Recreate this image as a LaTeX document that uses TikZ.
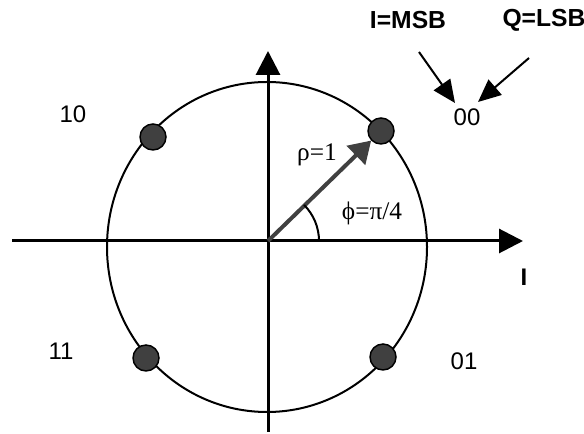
\documentclass[tikz,border=0pt]{standalone}
\usepackage{fontspec}
\setmainfont{Liberation Sans}
\newfontfamily\greekfont{Liberation Serif}
\usetikzlibrary{arrows.meta}

\begin{document}
\begin{tikzpicture}[x=0.75pt, y=0.75pt,
    axis/.style={line width=2.25pt, -{Triangle[length=18pt, width=18pt]}},
    pointer/.style={line width=1.5pt, -{Triangle[length=17pt, width=15pt]}},
    dot/.style={circle, draw=black, line width=1.1pt, fill=black!75, minimum size=19.5pt, inner sep=0pt},
    lab/.style={font=\fontsize{18}{20}\selectfont},
    hdr/.style={font=\bfseries\fontsize{18.5}{20}\selectfont},
    greek/.style={font=\greekfont\fontsize{19}{21}\selectfont}]
    \useasboundingbox (0,0) rectangle (584,434);

    % Assi
    \coordinate (O) at (268,193);
    \coordinate (xs) at (12,193);
    \coordinate (xe) at (523,193);
    \coordinate (ys) at (268,2);
    \coordinate (ye) at (268,383);
    \draw[axis] (xs) -- (xe);
    \draw[axis] (ys) -- (ye);
    \node[font=\bfseries\fontsize{18}{20}\selectfont] (ilab) at (524,157) {I};

    % Cerchio unitario
    \draw[line width=1.5pt] (267,187) ellipse [x radius=160, y radius=165];

    % Simboli
    \node[dot] (tr) at (381,303) {};
    \node[dot] (tl) at (153,297) {};
    \node[dot] (bl) at (146,76) {};
    \node[dot] (br) at (383,77) {};

    % Vettore e angolo
    \draw[line width=3pt, black!75, -{Triangle[length=16pt, width=19.5pt]}] (O) -- (tr);
    \draw[line width=1.5pt] ([shift={(51,0)}]O) arc [start angle=0, end angle=45, radius=51];
    \node[greek] (rho) at (317,279) {ρ=1};
    \node[greek] (phi) at (372,221) {ϕ=π/4};

    % Etichette dei bit
    \node[lab] (s10) at (73,320) {10};
    \node[lab] (s11) at (61,83) {11};
    \node[lab] (s01) at (464,73) {01};
    \node[lab] (s00) at (467,317) {00};
    \node[hdr] (msb) at (408,414) {I=MSB};
    \node[hdr] (lsb) at (544,414) {Q=LSB};
    \coordinate (msbtail) at (419,382);
    \coordinate (msbtip) at (455,331);
    \coordinate (lsbtail) at (529,376);
    \coordinate (lsbtip) at (478,332);
    \draw[pointer] (msbtail) -- (msbtip);
    \draw[pointer] (lsbtail) -- (lsbtip);

\end{tikzpicture}
\end{document}
